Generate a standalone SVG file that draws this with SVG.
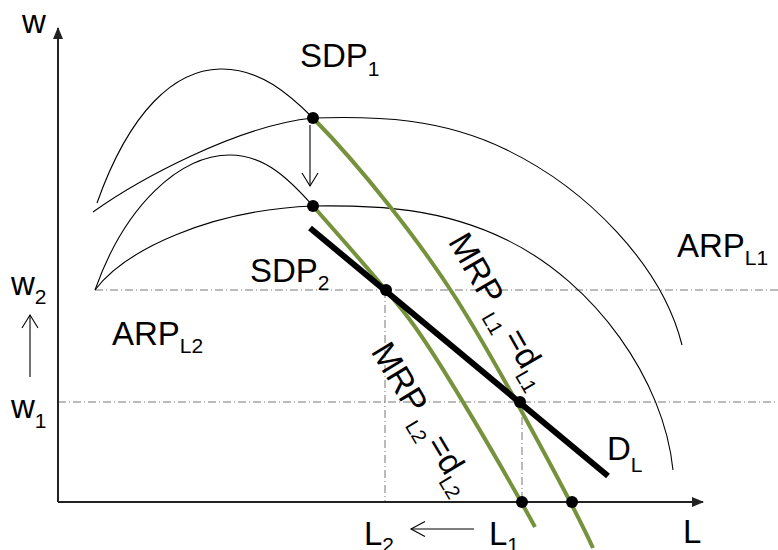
<svg xmlns="http://www.w3.org/2000/svg" width="778" height="550" viewBox="0 0 778 550">
<defs>
<style>
text{font-family:"Liberation Sans",Arial,sans-serif;fill:#000}
.lb{font-size:33px}
.sb{font-size:21px}
.rl{font-size:34px}
.rs{font-size:20px}
.thin{fill:none;stroke:#000;stroke-width:1.1}
.green{fill:none;stroke:#76923c;stroke-width:4}
.guide{fill:none;stroke:#777;stroke-width:1;stroke-dasharray:8 3 1 3}
.axis{fill:none;stroke:#222;stroke-width:2}
.open{fill:none;stroke:#000;stroke-width:1.1}
.dot{fill:#000}
</style>
<marker id="ah" viewBox="0 0 12 10" refX="11" refY="5" markerWidth="12" markerHeight="10" markerUnits="userSpaceOnUse" orient="auto">
<path d="M0,0 L12,5 L0,10 z" fill="#222"/>
</marker>
</defs>
<rect width="778" height="550" fill="#fff"/>

<g id="guides">
<line class="guide" x1="95" y1="290" x2="778" y2="290"/>
<line class="guide" x1="58" y1="402" x2="778" y2="402"/>
<line class="guide" x1="385" y1="290" x2="385" y2="502"/>
<line class="guide" x1="522" y1="402" x2="522" y2="502"/>
</g>

<g id="axes">
<line class="axis" x1="58" y1="502" x2="58" y2="28" marker-end="url(#ah)"/>
<line class="axis" x1="58" y1="502" x2="703" y2="502" marker-end="url(#ah)"/>
</g>

<g id="connectors">
<path id="SDP1" class="thin" d="M97,203 C130,110 175,70 220,69 C260,68 290,95 313,118"/>
<path id="ARPL1" class="thin" d="M93,212 C135,182 235,126 313,118 C378,116 442,118 507,150 C587,189 662,265 682,345"/>
<path id="SDP2" class="thin" d="M95,290 C125,205 180,155 230,155 C265,155 290,180 313,206"/>
<path id="ARPL2" class="thin" d="M95,290 C125,250 210,210 313,206 C378,205 442,208 507,240 C595,283 664,380 673,470"/>
<path id="MRPL1" class="green" d="M313,118 C360,166 419,240 457,300 C495,360 571,500 593,548"/>
<path id="MRPL2" class="green" d="M313,206 C348,246 386,288 410,320 C440,360 505,472 535,527"/>
<line id="DL" x1="310" y1="228" x2="608" y2="476" stroke="#000" stroke-width="6"/>
<g id="arrows">
<line class="open" x1="310" y1="125" x2="310" y2="186"/>
<path class="open" d="M302,173 L310,186 L318,173"/>
<line class="open" x1="30" y1="377" x2="30" y2="315"/>
<path class="open" d="M22,328 L30,315 L38,328"/>
<line class="open" x1="474" y1="529" x2="411" y2="529"/>
<path class="open" d="M425,521.5 L411,529 L425,536.5"/>
</g>
</g>

<g id="dots">
<circle class="dot" cx="313" cy="118" r="6"/>
<circle class="dot" cx="313" cy="206" r="6"/>
<circle class="dot" cx="386" cy="290" r="6"/>
<circle class="dot" cx="520" cy="402" r="6"/>
<circle class="dot" cx="522" cy="502" r="6"/>
<circle class="dot" cx="572" cy="502" r="6"/>
</g>

<g id="labels">
<text class="lb" x="22" y="33">w</text>
<text class="lb" x="11" y="295">w<tspan class="sb" dy="9">2</tspan></text>
<text class="lb" x="11" y="418">w<tspan class="sb" dy="10">1</tspan></text>
<text class="lb" x="300" y="67">SDP<tspan class="sb" dy="9">1</tspan></text>
<text class="lb" x="250" y="282">SDP<tspan class="sb" dy="8">2</tspan></text>
<text class="lb" x="677" y="257">ARP<tspan class="sb" dy="8">L1</tspan></text>
<text class="lb" x="112" y="345">ARP<tspan class="sb" dy="8">L2</tspan></text>
<text class="lb" x="607" y="460">D<tspan class="sb" dy="12">L</tspan></text>
<text class="lb" x="364" y="545">L<tspan class="sb" dy="7">2</tspan></text>
<text class="lb" x="489" y="545">L<tspan class="sb" dy="7">1</tspan></text>
<text class="lb" x="683" y="543">L</text>
<text class="rl" transform="translate(447.4,241.4) rotate(60)">MRP<tspan class="rs" dx="7" dy="9">L1</tspan><tspan dx="6" dy="-9">=d</tspan><tspan class="rs" dy="9">L1</tspan></text>
<text class="rl" transform="translate(370.3,351.2) rotate(59)">MRP<tspan class="rs" dx="6" dy="9">L2</tspan><tspan dx="4" dy="-9">=d</tspan><tspan class="rs" dy="9">L2</tspan></text>
</g>
</svg>
